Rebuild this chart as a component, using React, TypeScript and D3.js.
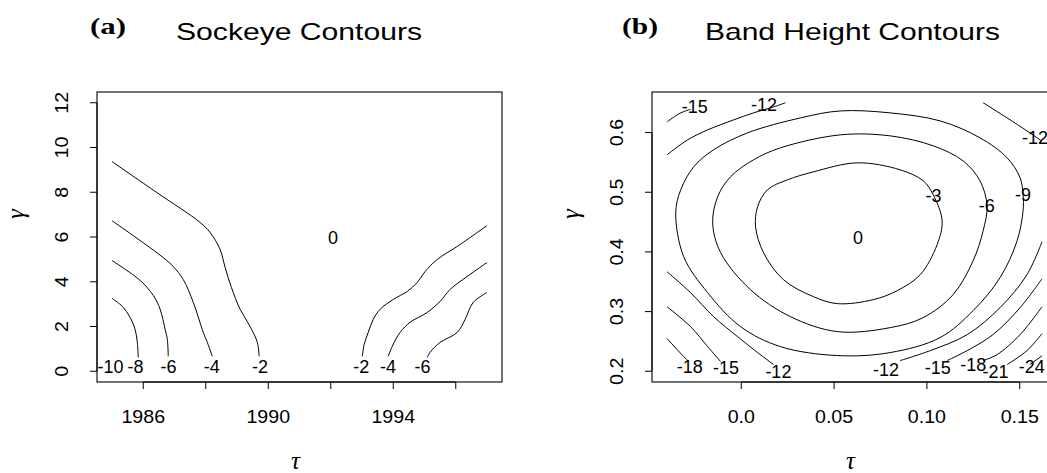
import * as d3 from "d3";

// ---- (a) Sockeye contours: tau (year) vs gamma ----
const yearRangeA = [1985, 1997];
const gammaRangeA = [0, 12];
const xTicksA = [1986, 1988, 1990, 1992, 1994, 1996];
const xTickLabelsA = ["1986", "", "1990", "", "1994", ""];
const yTicksA = [0, 2, 4, 6, 8, 10, 12];
const yTickLabelsA = ["0", "2", "4", "6", "8", "10", "12"];

const sockeyeM2Left = [[1985.0, 9.37], [1986.42, 8.0], [1987.82, 6.65], [1988.14, 6.2], [1988.46, 5.44], [1988.62, 4.64], [1988.82, 3.75], [1989.1, 2.77], [1989.42, 2.0], [1989.65, 1.29], [1989.71, 0.67]];
const sockeyeM4Left = [[1985.0, 6.73], [1986.64, 5.08], [1986.96, 4.68], [1987.28, 4.1], [1987.6, 3.08], [1987.92, 1.74], [1988.05, 1.29], [1988.21, 0.67]];
const sockeyeM6Left = [[1985.0, 4.95], [1985.9, 4.06], [1986.32, 3.39], [1986.54, 2.77], [1986.7, 1.87], [1986.77, 1.43], [1986.8, 0.67]];
const sockeyeM8Left = [[1985.0, 3.26], [1985.33, 2.9], [1985.58, 2.41], [1985.74, 1.87], [1985.81, 1.29], [1985.84, 0.62]];
const sockeyeM2Right = [[1997.0, 6.51], [1996.05, 5.58], [1995.41, 5.0], [1995.02, 4.46], [1994.77, 3.97], [1994.45, 3.57], [1994.0, 3.21], [1993.58, 2.77], [1993.36, 2.32], [1993.2, 1.74], [1993.07, 1.2], [1993.01, 0.67]];
const sockeyeM4Right = [[1997.0, 4.86], [1996.37, 4.24], [1995.82, 3.66], [1995.5, 3.12], [1995.09, 2.63], [1994.54, 2.19], [1994.22, 1.74], [1993.97, 1.12], [1993.84, 0.67]];
const sockeyeM6Right = [[1997.0, 3.52], [1996.56, 3.08], [1996.3, 2.32], [1996.05, 1.74], [1995.5, 1.29], [1995.18, 0.85], [1995.09, 0.62]];

const labelTextA = ["-10", "-8", "-6", "-4", "-2", "0", "-2", "-4", "-6"];
const labelXA = [1984.95, 1985.75, 1986.81, 1988.19, 1989.74, 1992.07, 1992.98, 1993.83, 1994.94];
const labelYA = [0.2, 0.2, 0.2, 0.2, 0.2, 5.97, 0.2, 0.2, 0.2];

// ---- (b) Band height contours: tau vs gamma ----
const tauRangeB = [-0.04, 0.162];
const gammaRangeB = [0.2, 0.65];
const xTicksB = [0, 0.05, 0.1, 0.15];
const xTickLabelsB = ["0.0", "0.05", "0.10", "0.15"];
const yTicksB = [0.2, 0.3, 0.4, 0.5, 0.6];
const yTickLabelsB = ["0.2", "0.3", "0.4", "0.5", "0.6"];

const bandLoopM3 = [[0.0625, 0.5493], [0.0856, 0.5376], [0.098, 0.5192], [0.1034, 0.4957], [0.1082, 0.4522], [0.1055, 0.4121], [0.0964, 0.3618], [0.084, 0.3351], [0.0711, 0.32], [0.0518, 0.3133], [0.0389, 0.325], [0.0227, 0.3535], [0.012, 0.3987], [0.0077, 0.4422], [0.0088, 0.4757], [0.0141, 0.5041], [0.0249, 0.5208], [0.0389, 0.5342]];
const bandLoopM6 = [[0.0534, 0.5962], [0.0802, 0.5945], [0.1034, 0.5778], [0.1195, 0.5526], [0.1286, 0.5192], [0.1324, 0.4773], [0.1303, 0.4355], [0.1249, 0.3853], [0.1141, 0.3284], [0.098, 0.2899], [0.0802, 0.2731], [0.0518, 0.2664], [0.0265, 0.2915], [0.005, 0.3367], [-0.0111, 0.3987], [-0.0154, 0.4489], [-0.0127, 0.4924], [-0.0058, 0.5259], [0.0066, 0.5543], [0.0211, 0.5744]];
const bandLoopM9 = [[0.0534, 0.6363], [0.0802, 0.633], [0.1071, 0.6196], [0.1286, 0.5912], [0.1432, 0.5577], [0.1502, 0.5242], [0.1518, 0.4957], [0.1518, 0.469], [0.1486, 0.4188], [0.1394, 0.3568], [0.1249, 0.3016], [0.1071, 0.2564], [0.0802, 0.2313], [0.0518, 0.2263], [0.0211, 0.2413], [-0.0004, 0.2748], [-0.0181, 0.3317], [-0.031, 0.392], [-0.0353, 0.4656], [-0.0326, 0.5041], [-0.0256, 0.5426], [-0.0149, 0.5711], [0.0034, 0.5995], [0.0319, 0.6246]];
const bandM12TopLeft = [[-0.04, 0.5627], [-0.0289, 0.5878], [-0.0181, 0.6045], [-0.0041, 0.6213], [0.0066, 0.633], [0.0174, 0.643], [0.0238, 0.65]];
const bandM12TopRight = [[0.1303, 0.65], [0.1432, 0.6246], [0.1539, 0.6028], [0.1609, 0.5878], [0.162, 0.585]];
const bandM12BottomLeft = [[-0.04, 0.3669], [-0.0273, 0.3317], [-0.0149, 0.2915], [-0.002, 0.2581], [0.0088, 0.2313], [0.0174, 0.2112]];
const bandM12BottomRight = [[0.162, 0.417], [0.1539, 0.3618], [0.1394, 0.3066], [0.1217, 0.2614], [0.1018, 0.2346], [0.0856, 0.2179]];
const bandM15TopLeft = [[-0.04, 0.618], [-0.0326, 0.633], [-0.0273, 0.639]];
const bandM15BottomLeft = [[-0.04, 0.3082], [-0.0273, 0.2748], [-0.0181, 0.2413], [-0.0111, 0.2162]];
const bandM15BottomRight = [[0.162, 0.355], [0.1502, 0.3066], [0.1356, 0.2614], [0.1217, 0.2346], [0.1109, 0.2179]];
const bandM18BottomLeft = [[-0.04, 0.2548], [-0.031, 0.2246], [-0.0285, 0.217]];
const bandM18BottomRight = [[0.162, 0.308], [0.1502, 0.2614], [0.1378, 0.2279], [0.1303, 0.2179]];
const bandM21BottomRight = [[0.162, 0.263], [0.1539, 0.2346], [0.1432, 0.2112]];
const bandM24BottomRight = [[0.162, 0.226], [0.1555, 0.2112]];

const labelTextB = ["0", "-3", "-6", "-9", "-12", "-15", "-12", "-18", "-15", "-12", "-12", "-15", "-18", "-21", "-24"];
const labelXB = [0.0629, 0.1035, 0.1322, 0.1518, 0.1583, -0.0251, 0.0123, -0.0277, -0.0082, 0.02, 0.078, 0.1058, 0.125, 0.137, 0.1565];
const labelYB = [0.4238, 0.4949, 0.4773, 0.4957, 0.591, 0.643, 0.6463, 0.2084, 0.2062, 0.2, 0.203, 0.207, 0.211, 0.2, 0.2084];

type Pt = number[];
interface Curve { pts: Pt[]; closed: boolean }

const curvesA: Curve[] = [sockeyeM2Left, sockeyeM4Left, sockeyeM6Left, sockeyeM8Left, sockeyeM2Right, sockeyeM4Right, sockeyeM6Right].map((pts) => ({ pts, closed: false }));
const curvesB: Curve[] = [
  ...[bandLoopM3, bandLoopM6, bandLoopM9].map((pts) => ({ pts, closed: true })),
  ...[bandM12TopLeft, bandM12TopRight, bandM12BottomLeft, bandM12BottomRight, bandM15TopLeft, bandM15BottomLeft, bandM15BottomRight, bandM18BottomLeft, bandM18BottomRight, bandM21BottomRight, bandM24BottomRight].map((pts) => ({ pts, closed: false }))
];

const SANS = "'Liberation Sans', Arial, Helvetica, sans-serif";
const SERIF = "'Liberation Serif', 'DejaVu Serif', serif";

// R-style 4% axis extension
const pad = (r: number[]) => {
  const e = (r[1] - r[0]) * 0.04;
  return [r[0] - e, r[1] + e];
};

const TOP = 92;
const BOTTOM = 382;
const WIDTH = 405;
const TICK = 7;

function Panel(props: {
  left: number;
  xRange: number[];
  yRange: number[];
  xTicks: number[];
  xTickLabels: string[];
  yTicks: number[];
  yTickLabels: string[];
  curves: Curve[];
  labelText: string[];
  labelX: number[];
  labelY: number[];
  tag: string;
  tagX: number;
  tagW: number;
  title: string;
  titleX: number;
  titleW: number;
}) {
  const { left } = props;
  const right = left + WIDTH;
  const x = d3.scaleLinear().domain(pad(props.xRange)).range([left, right]);
  const y = d3.scaleLinear().domain(pad(props.yRange)).range([BOTTOM, TOP]);
  const open = d3.line<Pt>().x((d) => x(d[0])).y((d) => y(d[1])).curve(d3.curveCatmullRom.alpha(0.5));
  const closed = d3.line<Pt>().x((d) => x(d[0])).y((d) => y(d[1])).curve(d3.curveCatmullRomClosed.alpha(0.5));
  const xt0 = x(props.xTicks[0]);
  const xt1 = x(props.xTicks[props.xTicks.length - 1]);
  const yt0 = y(props.yTicks[0]);
  const yt1 = y(props.yTicks[props.yTicks.length - 1]);

  return (
    <g>
      <text x={props.tagX} y={34} fontFamily={SERIF} fontWeight="bold" fontSize={23} textLength={props.tagW} lengthAdjust="spacingAndGlyphs">
        {props.tag}
      </text>
      <text x={props.titleX} y={40} fontFamily={SANS} fontSize={24} textLength={props.titleW} lengthAdjust="spacingAndGlyphs">
        {props.title}
      </text>

      <g fill="none" stroke="#000" strokeWidth={1}>
        {props.curves.map((c, i) => (
          <path key={i} d={(c.closed ? closed : open)(c.pts) ?? ""} />
        ))}
      </g>

      <rect x={left} y={TOP} width={WIDTH} height={BOTTOM - TOP} fill="none" stroke="#000" strokeWidth={1.1} />

      <g stroke="#000" strokeWidth={1}>
        <line x1={xt0} x2={xt1} y1={BOTTOM} y2={BOTTOM} />
        {props.xTicks.map((t, i) => (
          <line key={i} x1={x(t)} x2={x(t)} y1={BOTTOM} y2={BOTTOM + TICK} />
        ))}
        <line x1={left} x2={left} y1={yt0} y2={yt1} />
        {props.yTicks.map((t, i) => (
          <line key={i} x1={left - TICK} x2={left} y1={y(t)} y2={y(t)} />
        ))}
      </g>

      <g fontFamily={SANS} fontSize={18} textAnchor="middle" fill="#000">
        {props.xTicks.map((t, i) => (
          <text key={i} transform={`translate(${x(t)},423) scale(1.09,1)`}>
            {props.xTickLabels[i]}
          </text>
        ))}
        {props.yTicks.map((t, i) => (
          <text key={i} transform={`translate(${left - 29},${y(t)}) rotate(-90) scale(1.09,1)`}>
            {props.yTickLabels[i]}
          </text>
        ))}
      </g>

      <g fontFamily={SANS} fontSize={18} textAnchor="middle" fill="#000">
        {props.labelText.map((t, i) => (
          <text key={i} x={x(props.labelX[i])} y={y(props.labelY[i])} dy="0.36em">
            {t}
          </text>
        ))}
      </g>

      <text x={(left + right) / 2 - 4} y={469} fontFamily={SERIF} fontStyle="italic" fontSize={25} textAnchor="middle">
        τ
      </text>
      <text transform={`translate(${left - 73},214) rotate(-90)`} fontFamily={SERIF} fontStyle="italic" fontSize={25} textAnchor="middle">
        γ
      </text>
    </g>
  );
}

export default function App() {
  return (
    <svg width={1047} height={473} style={{ position: "absolute", left: 0, top: 0, background: "#fff" }}>
      <rect width={1047} height={473} fill="#fff" />
      <Panel
        left={97}
        xRange={yearRangeA}
        yRange={gammaRangeA}
        xTicks={xTicksA}
        xTickLabels={xTickLabelsA}
        yTicks={yTicksA}
        yTickLabels={yTickLabelsA}
        curves={curvesA}
        labelText={labelTextA}
        labelX={labelXA}
        labelY={labelYA}
        tag="(a)"
        tagX={90}
        tagW={36}
        title="Sockeye Contours"
        titleX={176}
        titleW={246}
      />
      <Panel
        left={652}
        xRange={tauRangeB}
        yRange={gammaRangeB}
        xTicks={xTicksB}
        xTickLabels={xTickLabelsB}
        yTicks={yTicksB}
        yTickLabels={yTickLabelsB}
        curves={curvesB}
        labelText={labelTextB}
        labelX={labelXB}
        labelY={labelYB}
        tag="(b)"
        tagX={622}
        tagW={36}
        title="Band Height Contours"
        titleX={705}
        titleW={295}
      />
    </svg>
  );
}
